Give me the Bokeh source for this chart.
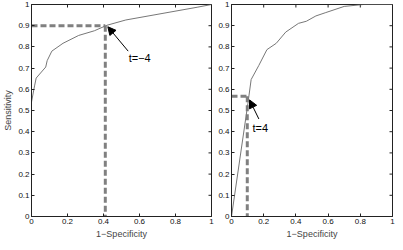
import math
from bokeh.plotting import figure
from bokeh.layouts import row
from bokeh.models import Arrow, NormalHead, FixedTicker, Range1d
from bokeh.core.properties import value
from bokeh.embed import file_html
from bokeh.resources import INLINE

# ROC curve, left panel
left_fpr = [0, 0, 0.017, 0.026, 0.079, 0.087, 0.113, 0.175, 0.262, 0.349, 0.419, 0.524, 0.92, 1.0]
left_tpr = [0, 0.54, 0.616, 0.653, 0.705, 0.735, 0.78, 0.817, 0.854, 0.876, 0.902, 0.927, 0.987, 1.0]
# ROC curve, right panel
right_fpr = [0, 0.102, 0.122, 0.17, 0.22, 0.278, 0.337, 0.416, 0.465, 0.524, 0.582, 0.7, 0.818, 1.0]
right_tpr = [0, 0.534, 0.646, 0.713, 0.787, 0.817, 0.87, 0.911, 0.921, 0.946, 0.961, 0.991, 1.0, 1.0]

# operating points
left_point = (0.41, 0.9)
right_point = (0.098, 0.567)
left_label = "t=\u22124"
right_label = "t=4"

xticks = [0, 0.2, 0.4, 0.6, 0.8, 1.0]
xtick_labels = ["0", "0.2", "0.4", "0.6", "0.8", "1"]
yticks = [0, 0.1, 0.2, 0.3, 0.4, 0.5, 0.6, 0.7, 0.8, 0.9, 1.0]
ytick_labels = ["0", "0.1", "0.2", "0.3", "0.4", "0.5", "0.6", "0.7", "0.8", "0.9", "1"]

FONT = "Liberation Sans"
AX = "#222222"
CURVE = "#777777"
DASH = "#808080"


def style_axis(ax, ticks, labels):
    ax.ticker = FixedTicker(ticks=ticks)
    ax.major_label_overrides = {t: l for t, l in zip(ticks, labels)}
    ax.major_tick_in = 3
    ax.major_tick_out = 0
    ax.minor_tick_in = 0
    ax.minor_tick_out = 0
    ax.axis_line_color = AX
    ax.major_tick_line_color = AX
    ax.major_label_text_font = FONT
    ax.major_label_text_font_size = "8px"
    ax.major_label_text_color = "#111111"
    ax.major_label_standoff = 2
    ax.axis_label_text_font = FONT
    ax.axis_label_text_font_size = "9px"
    ax.axis_label_text_font_style = "normal"
    ax.axis_label_standoff = 2


def make_fig(fw, ylabel, min_left, min_right):
    p = figure(frame_width=fw, frame_height=212, output_backend="svg",
               toolbar_location=None, x_range=Range1d(0, 1), y_range=Range1d(0, 1),
               min_border_left=min_left, min_border_right=min_right,
               min_border_top=4, min_border_bottom=0,
               x_axis_label="1\u2212Specificity", y_axis_label=ylabel)
    p.grid.visible = False
    p.outline_line_color = AX
    p.background_fill_color = "white"
    p.border_fill_color = "white"
    style_axis(p.xaxis[0], xticks, xtick_labels)
    style_axis(p.yaxis[0], yticks, ytick_labels)
    # inward ticks on top and right edges (box style); clipped to frame
    p.scatter(x=xticks, y=[1.0] * len(xticks), marker="dash", size=6, angle=math.pi / 2,
              line_color=AX, line_width=1)
    p.scatter(x=[1.0] * len(yticks), y=yticks, marker="dash", size=6,
              line_color=AX, line_width=1)
    return p


p1 = make_fig(180, "Sensitivity", 0, 4)
p2 = make_fig(161, None, 0, 4)

# left panel
p1.line([0, left_point[0]], [left_point[1], left_point[1]], line_color=DASH, line_width=3, line_dash="6 3")
p1.line([left_point[0], left_point[0]], [left_point[1], 0], line_color=DASH, line_width=3, line_dash="6 3")
p1.line(left_fpr, left_tpr, line_color=CURVE, line_width=1)
p1.add_layout(Arrow(end=NormalHead(size=8, fill_color="black", line_color="black"),
                    x_start=0.537, y_start=0.78, x_end=0.424, y_end=0.895,
                    line_color="black", line_width=1))
p1.text(x=[0.54], y=[0.775], text=[left_label], text_font=value(FONT), text_font_size="11px",
        text_baseline="top", text_color="black")

# right panel
p2.line([0, right_point[0]], [right_point[1], right_point[1]], line_color=DASH, line_width=3, line_dash="6 3")
p2.line([right_point[0], right_point[0]], [right_point[1], 0], line_color=DASH, line_width=3, line_dash="6 3")
p2.line(right_fpr, right_tpr, line_color=CURVE, line_width=1)
p2.add_layout(Arrow(end=NormalHead(size=8, fill_color="black", line_color="black"),
                    x_start=0.17, y_start=0.46, x_end=0.112, y_end=0.55,
                    line_color="black", line_width=1))
p2.text(x=[0.13], y=[0.445], text=[right_label], text_font=value(FONT), text_font_size="11px",
        text_baseline="top", text_color="black")

layout = row(p1, p2)
open("out.html", "w").write(file_html(layout, INLINE))
